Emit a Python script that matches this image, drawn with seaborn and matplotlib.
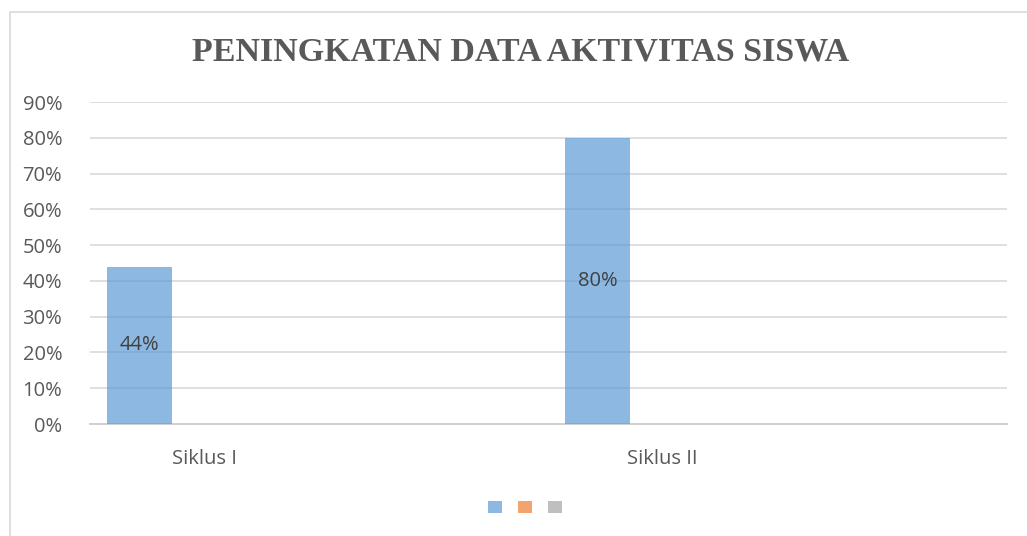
import matplotlib
matplotlib.use("Agg")
import matplotlib.pyplot as plt
import pandas as pd
import seaborn as sns
from matplotlib.patches import Rectangle
from matplotlib.ticker import PercentFormatter

# data
categories = ["Siklus I", "Siklus II"]
series_names = ["Series 1", "Series 2", "Series 3"]
series1 = [0.44, 0.80]
series2 = [0.0, 0.0]
series3 = [0.0, 0.0]
y_ticks = [0.0, 0.1, 0.2, 0.3, 0.4, 0.5, 0.6, 0.7, 0.8, 0.9]

df = pd.DataFrame({
    "kategori": categories * 3,
    "seri": [s for s in series_names for _ in categories],
    "nilai": series1 + series2 + series3,
})

sns.set_theme(style="white")
plt.rcParams["font.family"] = ["Open Sans", "DejaVu Sans"]

palette = ["#5B9BD5", "#ED7D31", "#A5A5A5"]

fig = plt.figure(figsize=(10.27, 5.36), dpi=100)
ax = fig.add_axes([90 / 1027, 112 / 536, 917 / 1027, 322 / 536])

sns.barplot(data=df, x="kategori", y="nilai", hue="seri", palette=palette,
            width=0.426, dodge=True, alpha=0.7, saturation=1, ax=ax,
            legend=False, linewidth=0, zorder=3)

ax.set_xlim(-0.25, 1.752)
ax.set_ylim(0, 0.9)
ax.set_yticks(y_ticks)
ax.yaxis.set_major_formatter(PercentFormatter(1.0, decimals=0))
ax.grid(axis="y", color="#D9D9D9", linewidth=1.2, zorder=0)
ax.set_axisbelow(True)
for side in ["top", "right", "left"]:
    ax.spines[side].set_visible(False)
ax.spines["bottom"].set_color("#D0D0D0")
ax.spines["bottom"].set_linewidth(1.4)
ax.tick_params(axis="both", length=0, colors="#595959", labelsize=14.5)
ax.tick_params(axis="y", pad=20)
ax.tick_params(axis="x", pad=18)
ax.set_xlabel("")
ax.set_ylabel("")

# data labels for the first series (centered in the bar)
bars = ax.containers[0]
for rect, v in zip(bars, series1):
    ax.text(rect.get_x() + rect.get_width() / 2, v / 2, f"{v:.0%}",
            ha="center", va="center", fontsize=14.5, color="#404040", zorder=5)

# legend with empty labels
handles = [Rectangle((0, 0), 1, 1, color=c, alpha=0.7, linewidth=0) for c in palette]
fig.legend(handles, ["", "", ""], loc="center", bbox_to_anchor=(525 / 1027, 1 - 508 / 536),
           ncol=3, frameon=False, fontsize=10, handlelength=1.0, handleheight=1.0,
           columnspacing=1.15, handletextpad=0.0)

fig.suptitle("PENINGKATAN DATA AKTIVITAS SISWA", x=521 / 1027, y=1 - 52 / 536,
             va="center", fontsize=24.5, fontweight="bold",
             family=["Liberation Serif", "DejaVu Serif"], color="#595959")

# chart border
fig.patches.append(Rectangle((10 / 1027, -0.1), 1.1, 1.1 - 12 / 536, transform=fig.transFigure,
                             fill=False, edgecolor="#D9D9D9", linewidth=1.2))

fig.savefig("out.png", dpi=100)
